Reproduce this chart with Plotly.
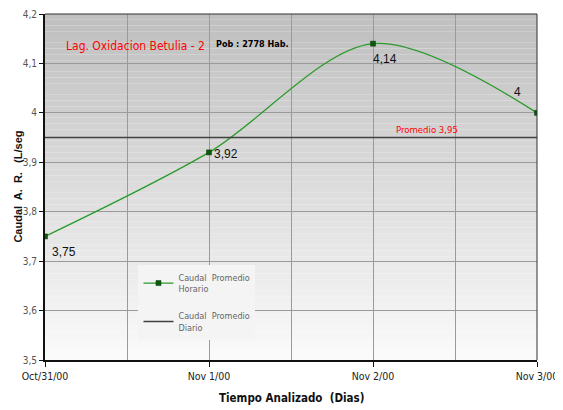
import plotly.graph_objects as go

categories = ["Oct/31/00", "Nov 1/00", "Nov 2/00", "Nov 3/00"]
caudal_horario = [3.75, 3.92, 4.14, 4.00]
value_labels = ["3,75", "3,92", "4,14", "4"]
promedio = 3.95
promedio_label = "Promedio 3,95"
y_tickvals = [3.5, 3.6, 3.7, 3.8, 3.9, 4.0, 4.1, 4.2]
y_ticktext = ["3,5", "3,6", "3,7", "3,8", "3,9", "4", "4,1", "4,2"]

xs = list(range(len(categories)))
FONT = "DejaVu Sans Condensed, Liberation Sans Narrow, Liberation Sans, Arial"
FONT2 = "Liberation Sans, Arial"

fig = go.Figure()

fig.add_trace(go.Scatter(
    x=xs, y=caudal_horario, mode="lines+markers",
    name="Caudal  Promedio<br>Horario", legendgroup="a",
    line=dict(color="#2b9a2b", width=1.3, shape="spline", smoothing=0.9),
    marker=dict(symbol="square", size=5, color="#0b5a0b", line=dict(color="#063806", width=0.5)),
))
fig.add_trace(go.Scatter(
    x=[xs[0], xs[-1]], y=[promedio, promedio], mode="lines",
    name="Caudal  Promedio<br>Diario", legendgroup="b",
    line=dict(color="#404040", width=1.5),
))

# gradient background bands
n = 60
shapes = []
for i in range(n):
    t = i / (n - 1)
    c = int(250 - (250 - 192) * t)
    shapes.append(dict(type="rect", xref="x domain", yref="y domain",
                       x0=0, x1=1, y0=i / n, y1=(i + 1) / n,
                       fillcolor=f"rgb({c},{c},{c})", line=dict(width=0), layer="below"))
shapes.append(dict(type="line", xref="x domain", yref="y domain", x0=0, x1=1, y0=1, y1=1,
                   line=dict(color="#303030", width=1)))
shapes.append(dict(type="line", xref="x domain", yref="y domain", x0=1, x1=1, y0=0, y1=1,
                   line=dict(color="#303030", width=1)))

annotations = []
offsets = [(19, -16), (17, -2), (12, -15), (-20, 21)]
for x, y, lab, (dx, dy) in zip(xs, caudal_horario, value_labels, offsets):
    annotations.append(dict(x=x, y=y, text=lab, showarrow=False, xshift=dx, yshift=dy,
                            font=dict(family=FONT2, size=12, color="#111")))
annotations.append(dict(x=2.33, y=promedio, text=promedio_label, showarrow=False, yshift=8,
                        font=dict(family=FONT, size=9.5, color="#ff0000")))
annotations.append(dict(xref="paper", yref="paper", x=0.039, y=0.934, xanchor="left",
                        text="Lag. Oxidacion Betulia - 2", showarrow=False,
                        font=dict(family=FONT, size=12, color="#ff0000")))
annotations.append(dict(xref="paper", yref="paper", x=0.344, y=0.934, xanchor="left",
                        text="<b>Pob : 2778 Hab.</b>", showarrow=False,
                        font=dict(family=FONT, size=9, color="#000")))
annotations.append(dict(xref="paper", yref="paper", x=0.5, y=-0.11, yanchor="middle",
                        text="<b>Tiempo Analizado  (Dias)</b>", showarrow=False,
                        font=dict(family=FONT, size=11.5, color="#111")))
annotations.append(dict(xref="paper", yref="paper", x=-0.072, y=0.5, textangle=-90,
                        text="<b>Caudal  A.  R.   (L/seg</b>", showarrow=False,
                        font=dict(family=FONT2, size=11, color="#111")))

fig.update_layout(
    width=563, height=410,
    margin=dict(l=37, r=34, t=6, b=58),
    paper_bgcolor="white", plot_bgcolor="rgba(0,0,0,0)",
    font=dict(family=FONT, color="#333"),
    shapes=shapes, annotations=annotations,
    showlegend=True,
    legend=dict(x=0.19, y=0.275, xanchor="left", yanchor="top",
                bgcolor="#f4f4f4", font=dict(family=FONT, size=9, color="#666"),
                itemwidth=30, tracegroupgap=12),
)
fig.update_xaxes(
    range=[0, 3], tickvals=xs, ticktext=categories, automargin=False,
    showline=True, linecolor="#111", linewidth=2,
    ticks="outside", ticklen=5, tickcolor="#111",
    showgrid=True, gridcolor="#9a9a9a", gridwidth=1,
    minor=dict(dtick=0.5, tick0=0, showgrid=True, gridcolor="#9a9a9a", ticks=""),
    tickfont=dict(family=FONT, size=10.5, color="#222"),
    zeroline=False,
)
fig.update_yaxes(
    range=[3.5, 4.2], tickvals=y_tickvals, ticktext=y_ticktext, automargin=False,
    showline=True, linecolor="#111", linewidth=2,
    ticks="outside", ticklen=4, tickcolor="#111",
    showgrid=True, gridcolor="#9a9a9a", gridwidth=1,
    tickfont=dict(family=FONT, size=10, color="#555"),
    zeroline=False,
)

fig.write_html("out.html")
